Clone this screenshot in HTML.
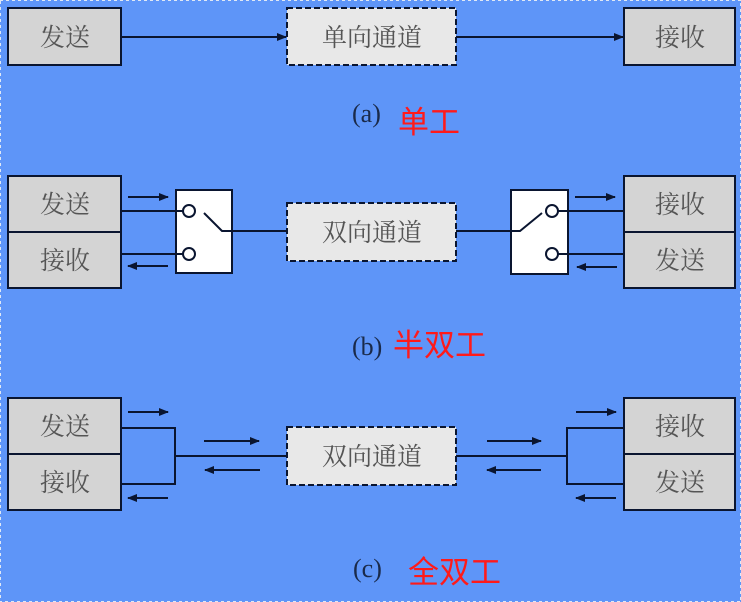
<!DOCTYPE html>
<html><head><meta charset="utf-8"><style>
html,body{margin:0;padding:0;background:#5e95f8;}
svg{display:block}
.bx{font-family:"Liberation Serif","Noto Serif CJK SC",serif;font-size:25px;fill:#555;}
.lb{font-family:"Liberation Serif",serif;font-size:26px;fill:#1a2a4a;}
.rd{font-family:"Liberation Sans","Noto Sans CJK SC",sans-serif;font-size:31px;fill:#ff1a1a;}
</style></head><body>
<svg width="741" height="602" viewBox="0 0 741 602" xmlns="http://www.w3.org/2000/svg">
<defs><marker id="ah" markerWidth="10" markerHeight="8" refX="9" refY="4" orient="auto" markerUnits="userSpaceOnUse"><path d="M0,0 L10,4 L0,8 Z" fill="#0a1530"/></marker></defs>
<rect x="0" y="0" width="741" height="602" fill="#5e95f8" stroke="#dfe8f5" stroke-width="2" stroke-dasharray="3,3"/>
<g stroke="#0a1530" stroke-width="2" fill="none">
<!-- (a) -->
<rect x="8" y="8" width="113" height="57" fill="#d4d4d4"/>
<rect x="287" y="8" width="169" height="57" fill="#e8e8e8" stroke-dasharray="6,3"/>
<rect x="624" y="8" width="111" height="57" fill="#d4d4d4"/>
<line x1="121" y1="37" x2="286" y2="37" marker-end="url(#ah)"/>
<line x1="456" y1="37" x2="623" y2="37" marker-end="url(#ah)"/>
<!-- (b) -->
<rect x="8" y="176" width="113" height="56" fill="#d4d4d4"/>
<rect x="8" y="232" width="113" height="56" fill="#d4d4d4"/>
<rect x="176" y="190" width="56" height="83" fill="#fff"/>
<rect x="287" y="203" width="169" height="58" fill="#e8e8e8" stroke-dasharray="6,3"/>
<rect x="511" y="190" width="57" height="84" fill="#fff"/>
<rect x="624" y="176" width="111" height="56" fill="#d4d4d4"/>
<rect x="624" y="232" width="111" height="56" fill="#d4d4d4"/>
<line x1="121" y1="211" x2="183" y2="211"/><line x1="121" y1="254" x2="183" y2="254"/>
<circle cx="189" cy="211" r="6" fill="#fff"/><circle cx="189" cy="254" r="6" fill="#fff"/>
<polyline points="204,213 222,231 287,231"/>
<line x1="128" y1="197" x2="168" y2="197" marker-end="url(#ah)"/>
<line x1="168" y1="266" x2="128" y2="266" marker-end="url(#ah)"/>
<polyline points="456,231 520,231 542,213"/>
<circle cx="552" cy="211" r="6" fill="#fff"/><circle cx="552" cy="254" r="6" fill="#fff"/>
<line x1="558" y1="211" x2="624" y2="211"/><line x1="558" y1="254" x2="624" y2="254"/>
<line x1="575" y1="197" x2="615" y2="197" marker-end="url(#ah)"/>
<line x1="617" y1="267" x2="577" y2="267" marker-end="url(#ah)"/>
<!-- (c) -->
<rect x="8" y="398" width="113" height="56" fill="#d4d4d4"/>
<rect x="8" y="454" width="113" height="56" fill="#d4d4d4"/>
<rect x="287" y="427" width="169" height="58" fill="#e8e8e8" stroke-dasharray="6,3"/>
<rect x="624" y="398" width="111" height="56" fill="#d4d4d4"/>
<rect x="624" y="454" width="111" height="56" fill="#d4d4d4"/>
<polyline points="121,428 175,428 175,484 121,484"/>
<line x1="175" y1="456" x2="287" y2="456"/>
<line x1="128" y1="412" x2="168" y2="412" marker-end="url(#ah)"/>
<line x1="168" y1="498" x2="128" y2="498" marker-end="url(#ah)"/>
<line x1="204" y1="441" x2="259" y2="441" marker-end="url(#ah)"/>
<line x1="260" y1="470" x2="205" y2="470" marker-end="url(#ah)"/>
<polyline points="624,428 567,428 567,484 624,484"/>
<line x1="456" y1="456" x2="567" y2="456"/>
<line x1="576" y1="412" x2="616" y2="412" marker-end="url(#ah)"/>
<line x1="616" y1="498" x2="576" y2="498" marker-end="url(#ah)"/>
<line x1="487" y1="441" x2="541" y2="441" marker-end="url(#ah)"/>
<line x1="541" y1="470" x2="487" y2="470" marker-end="url(#ah)"/>
</g>
<g class="bx" text-anchor="middle">
<text x="65" y="46">发送</text><text x="372" y="46">单向通道</text><text x="680" y="46">接收</text>
<text x="65" y="213">发送</text><text x="65" y="269">接收</text><text x="372" y="241">双向通道</text>
<text x="680" y="213">接收</text><text x="680" y="269">发送</text>
<text x="65" y="435">发送</text><text x="65" y="491">接收</text><text x="372" y="465">双向通道</text>
<text x="680" y="435">接收</text><text x="680" y="491">发送</text>
</g>
<text class="lb" x="352" y="122">(a)</text><text class="rd" x="398" y="133">单工</text>
<text class="lb" x="352" y="355">(b)</text><text class="rd" x="393" y="356">半双工</text>
<text class="lb" x="353" y="577">(c)</text><text class="rd" x="408" y="583">全双工</text>
</svg>
</body></html>
